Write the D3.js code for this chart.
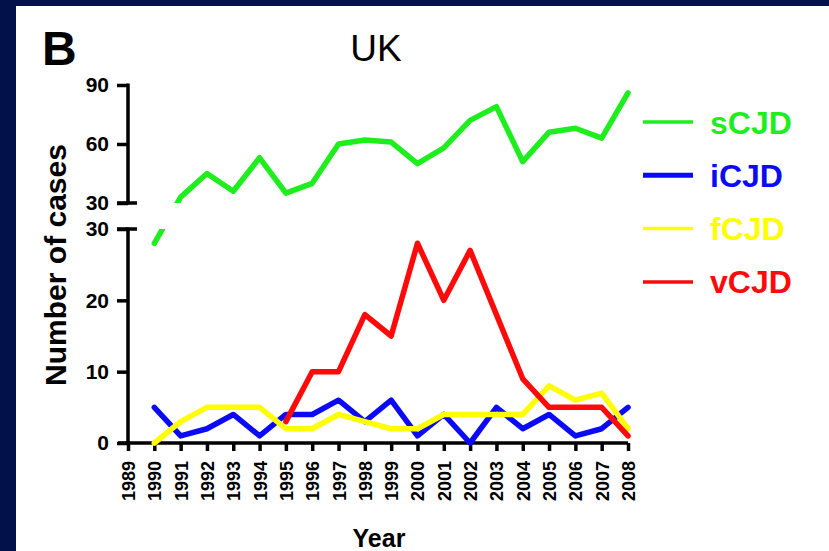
<!DOCTYPE html>
<html>
<head>
<meta charset="utf-8">
<script src="https://cdn.jsdelivr.net/npm/d3@7"></script>
<style>
  html, body { margin: 0; padding: 0; background: #03114a; }
  svg { display: block; }
  text { font-family: "Liberation Sans", Arial, sans-serif; }
</style>
</head>
<body>
<svg id="chart"></svg>
<script>
// data (UK CJD cases per year)
var years = d3.range(1989, 2009);
var dataYears = d3.range(1990, 2009);
var sCJD = [28, 33, 45, 36, 53, 35, 40, 60, 62, 61, 50, 58, 72, 79, 51, 66, 68, 63, 86];
var iCJD = [5, 1, 2, 4, 1, 4, 4, 6, 3, 6, 1, 4, 0, 5, 2, 4, 1, 2, 5];
var fCJD = [0, 3, 5, 5, 5, 2, 2, 4, 3, 2, 2, 4, 4, 4, 4, 8, 6, 7, 2];
var vCJD = [null, null, null, null, null, 3, 10, 10, 18, 15, 28, 20, 27, 18, 9, 5, 5, 5, 1];
var lowTicks = [0, 10, 20, 30];
var highTicks = [30, 60, 90];
var seriesNames = ["sCJD", "iCJD", "fCJD", "vCJD"];
var seriesColors = ["#1eee1e", "#0a0af5", "#ffff00", "#ff0a0a"];

var W = 829, H = 551;
var svg = d3.select("#chart").attr("width", W).attr("height", H);

// white panel on navy background
svg.append("rect").attr("x", 16).attr("y", 6).attr("width", W - 16).attr("height", H - 6).attr("fill", "#fff");

var x = d3.scaleLinear().domain([1989, 2008]).range([128, 628]);
var yLow = d3.scaleLinear().domain([0, 30]).range([443, 229]);
var yHigh = d3.scaleLinear().domain([30, 90]).range([203, 85]);

// broken axis: values below 30 on the lower scale, above on the upper one
function yBroken(v) { return v <= 30 ? yLow(v) : yHigh(v); }

var defs = svg.append("defs");
var clipBoth = defs.append("clipPath").attr("id", "clipBoth");
clipBoth.append("rect").attr("x", 100).attr("y", 60).attr("width", 560).attr("height", yHigh(30) - 60);
clipBoth.append("rect").attr("x", 100).attr("y", yLow(30)).attr("width", 560).attr("height", yLow(0) - yLow(30) + 10);

// axes
function styleAxis(g) {
  g.selectAll("path, line").attr("stroke", "#000").attr("stroke-width", 3.5);
  g.selectAll("text").attr("font-size", 21).attr("font-weight", "bold").attr("fill", "#000");
}

var gLow = svg.append("g").attr("transform", "translate(" + x(1989) + ",0)")
  .call(d3.axisLeft(yLow).tickValues(lowTicks).tickSize(11).tickSizeOuter(0).tickPadding(8));
styleAxis(gLow);
gLow.select(".domain").remove();
gLow.append("line").attr("y1", yLow(0)).attr("y2", yLow(30) - 1.5).attr("stroke", "#000").attr("stroke-width", 3.5);
gLow.append("line").attr("x1", -11).attr("x2", 9).attr("y1", yLow(30)).attr("y2", yLow(30)).attr("stroke", "#000").attr("stroke-width", 3.5);

var gHigh = svg.append("g").attr("transform", "translate(" + x(1989) + ",0)")
  .call(d3.axisLeft(yHigh).tickValues(highTicks).tickSize(11).tickSizeOuter(0).tickPadding(8));
styleAxis(gHigh);
gHigh.select(".domain").remove();
gHigh.append("line").attr("y1", yHigh(30) + 1.5).attr("y2", yHigh(90) - 1.5).attr("stroke", "#000").attr("stroke-width", 3.5);
gHigh.append("line").attr("x1", -11).attr("x2", 9).attr("y1", yHigh(30)).attr("y2", yHigh(30)).attr("stroke", "#000").attr("stroke-width", 3.5);

var gx = svg.append("g").attr("transform", "translate(0," + yLow(0) + ")")
  .call(d3.axisBottom(x).tickValues(years).tickFormat(d3.format("d")).tickSize(8).tickSizeOuter(0));
gx.select(".domain").attr("d", "M" + (x(1989) - 10) + ",0H" + x(2008));
styleAxis(gx);
gx.selectAll("text")
  .attr("font-size", 18)
  .attr("transform", "rotate(-90)")
  .attr("text-anchor", "end")
  .attr("x", -18).attr("y", 0).attr("dy", "0.36em");

// lines
var all = [sCJD, iCJD, fCJD, vCJD];
var line = d3.line()
  .defined(function(d) { return d != null; })
  .x(function(d, i) { return x(dataYears[i]); })
  .y(function(d) { return yBroken(d); });

var plot = svg.append("g").attr("clip-path", "url(#clipBoth)");
// draw vCJD last so it sits on top like the original
[1, 2, 3, 0].forEach(function(k) {
  plot.append("path")
    .datum(all[k])
    .attr("fill", "none")
    .attr("stroke", seriesColors[k])
    .attr("stroke-width", 5.5)
    .attr("stroke-linejoin", "round")
    .attr("stroke-linecap", "round")
    .attr("d", line);
});

// legend
var legend = svg.append("g").attr("transform", "translate(643,122)");
var item = legend.selectAll("g").data(seriesNames).enter().append("g")
  .attr("transform", function(d, i) { return "translate(0," + (i * 53.3) + ")"; });
item.append("line").attr("x1", 0).attr("x2", 50)
  .attr("stroke", function(d, i) { return seriesColors[i]; })
  .attr("stroke-width", function(d, i) { return i === 1 ? 5 : 3.5; });
item.append("text").attr("x", 67).attr("dy", "0.36em")
  .attr("font-size", 32).attr("font-weight", "bold")
  .attr("fill", function(d, i) { return seriesColors[i]; })
  .text(function(d) { return d; });

// titles
svg.append("text").attr("x", 42).attr("y", 65).attr("font-size", 48).attr("font-weight", "bold").text("B");
svg.append("text").attr("x", 376).attr("y", 61).attr("text-anchor", "middle").attr("font-size", 37).text("UK");
svg.append("text").attr("transform", "translate(66,265) rotate(-90)").attr("text-anchor", "middle")
  .attr("font-size", 30).attr("font-weight", "bold").text("Number of cases");
svg.append("text").attr("x", 379).attr("y", 547).attr("text-anchor", "middle")
  .attr("font-size", 25).attr("font-weight", "bold").text("Year");
</script>
</body>
</html>
